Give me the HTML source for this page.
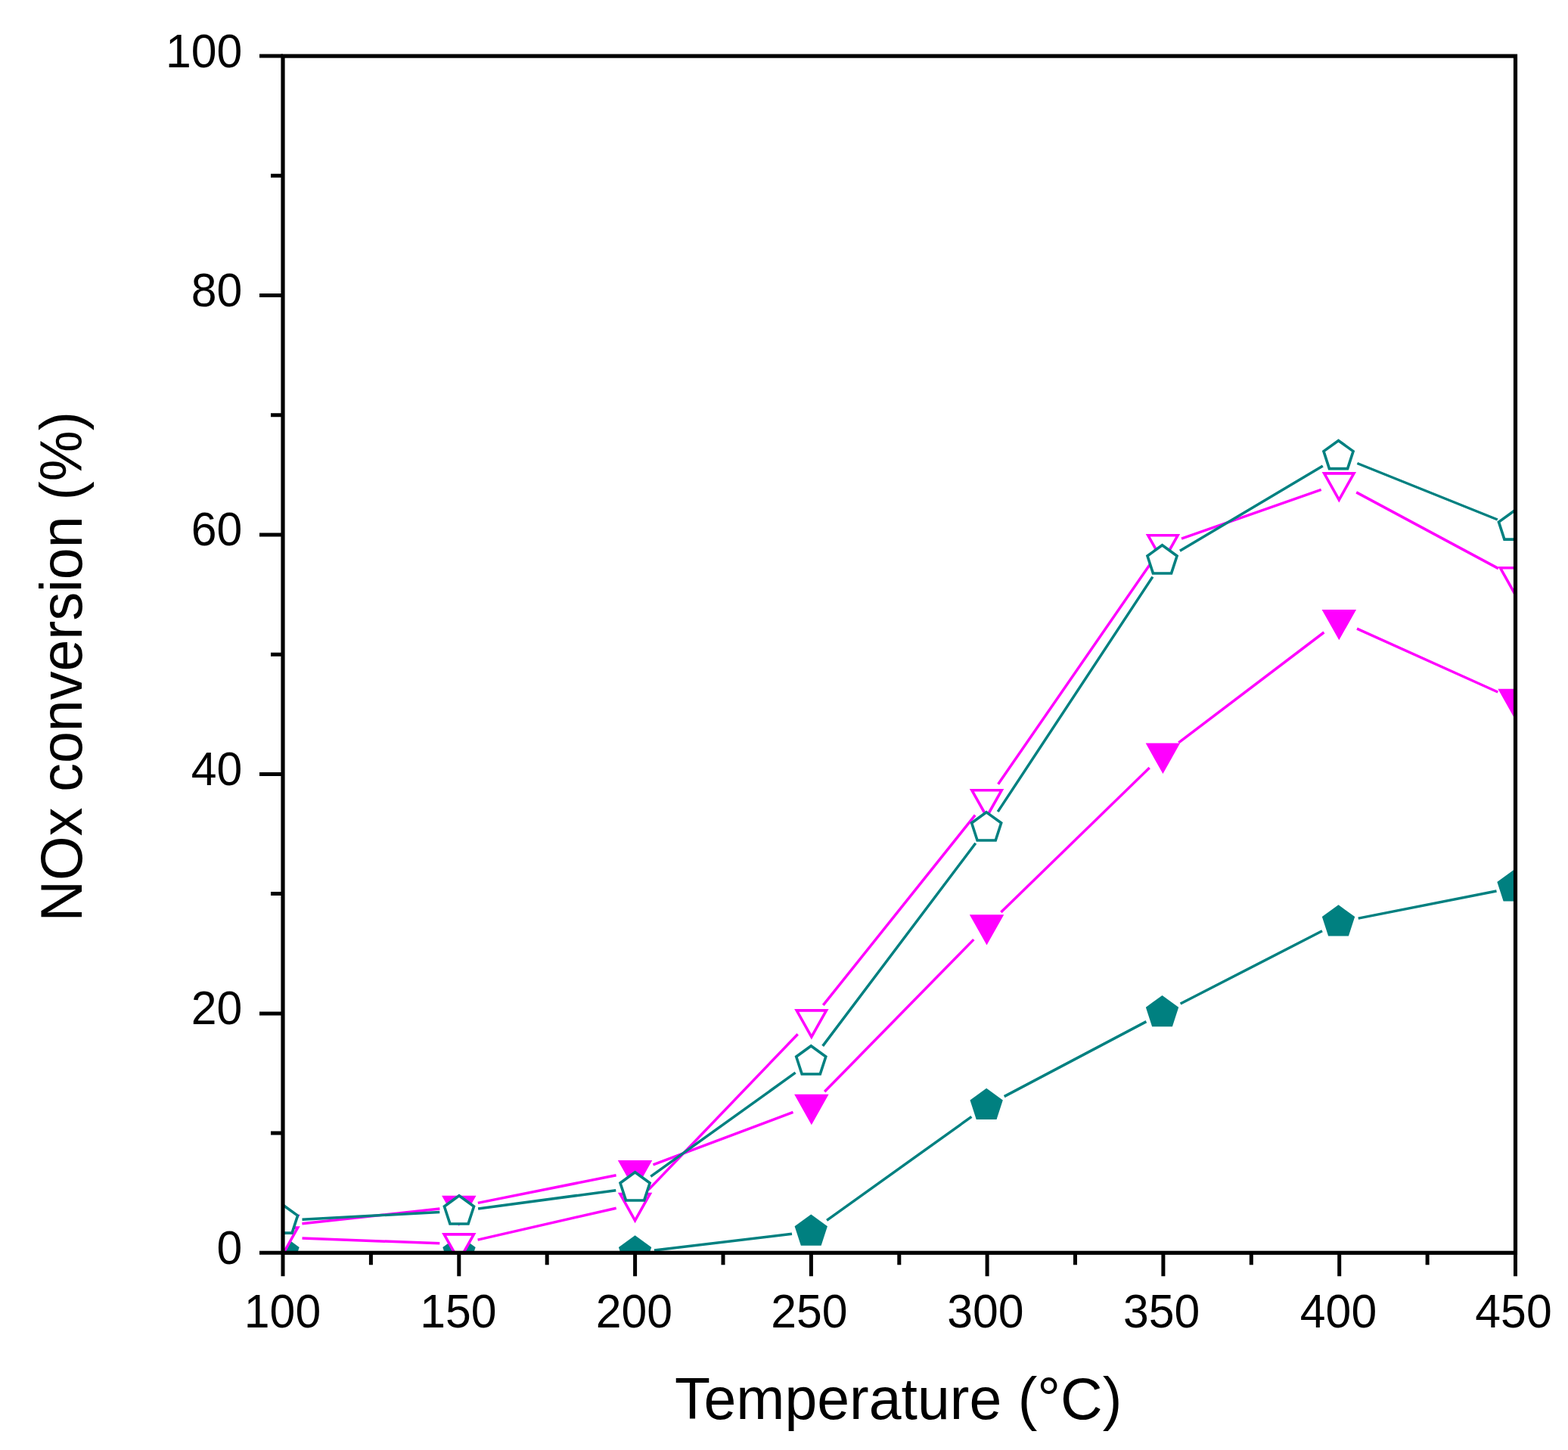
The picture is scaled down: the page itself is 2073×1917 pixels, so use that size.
<!DOCTYPE html>
<html><head><meta charset="utf-8"><title>NOx conversion vs Temperature</title>
<style>
html,body{margin:0;padding:0;background:#fff;width:2073px;height:1917px;overflow:hidden;}
svg{display:block;}
text{font-family:"Liberation Sans",Arial,Helvetica,sans-serif;fill:#000;}
</style></head>
<body>
<svg width="2073" height="1917" viewBox="0 0 2073 1917">
<rect x="0" y="0" width="2073" height="1917" fill="#fff"/>
<defs><clipPath id="pc"><rect x="374.0" y="74.1" width="1629.5" height="1582.2"/></clipPath></defs>
<g clip-path="url(#pc)">
<path d="M399.5 1656.0L581.3 1656.0M632.3 1656.0L814.1 1656.0M864.9 1653.0L1047.0 1631.3M1093.1 1613.4L1284.4 1476.4M1327.7 1449.6L1515.4 1350.6M1560.6 1327.0L1748.0 1230.8M1795.7 1214.1L1978.5 1178.0" fill="none" stroke="#008080" stroke-width="3.5" stroke-linecap="butt"/>
<polygon points="374.00,1635.44 393.55,1649.65 386.08,1672.63 361.92,1672.63 354.45,1649.65" fill="#008080" stroke="#008080" stroke-width="3.6" stroke-linejoin="miter"/>
<polygon points="606.99,1635.44 626.54,1649.65 619.07,1672.63 594.90,1672.63 587.43,1649.65" fill="#008080" stroke="#008080" stroke-width="3.6" stroke-linejoin="miter"/>
<polygon points="839.57,1635.44 859.13,1649.65 851.66,1672.63 827.49,1672.63 820.02,1649.65" fill="#008080" stroke="#008080" stroke-width="3.6" stroke-linejoin="miter"/>
<polygon points="1072.26,1607.74 1091.81,1621.95 1084.34,1644.93 1060.17,1644.93 1052.70,1621.95" fill="#008080" stroke="#008080" stroke-width="3.6" stroke-linejoin="miter"/>
<polygon points="1304.14,1440.94 1323.70,1455.15 1316.23,1478.13 1292.06,1478.13 1284.59,1455.15" fill="#008080" stroke="#008080" stroke-width="3.6" stroke-linejoin="miter"/>
<polygon points="1536.53,1318.14 1556.08,1332.35 1548.61,1355.33 1524.44,1355.33 1516.97,1332.35" fill="#008080" stroke="#008080" stroke-width="3.6" stroke-linejoin="miter"/>
<polygon points="1769.51,1198.54 1789.07,1212.75 1781.60,1235.73 1757.43,1235.73 1749.96,1212.75" fill="#008080" stroke="#008080" stroke-width="3.6" stroke-linejoin="miter"/>
<polygon points="2001.00,1152.44 2020.55,1166.65 2013.08,1189.63 1988.92,1189.63 1981.45,1166.65" fill="#008080" stroke="#008080" stroke-width="3.6" stroke-linejoin="miter"/>
<path d="M399.4 1617.8L581.4 1598.1M631.8 1590.4L814.6 1553.7M863.5 1539.8L1048.5 1470.4M1090.2 1443.3L1287.3 1242.1M1323.4 1206.1L1519.7 1015.1M1558.2 981.9L1750.4 836.0M1794.0 831.1L1980.3 915.0" fill="none" stroke="#FF00FF" stroke-width="3.5" stroke-linecap="butt"/>
<polygon points="354.35,1607.60 393.65,1607.60 374.00,1642.55" fill="#FF00FF" stroke="#FF00FF" stroke-width="3.6" stroke-linejoin="miter"/>
<polygon points="587.14,1582.50 626.44,1582.50 606.79,1617.45" fill="#FF00FF" stroke="#FF00FF" stroke-width="3.6" stroke-linejoin="miter"/>
<polygon points="819.92,1535.80 859.22,1535.80 839.57,1570.75" fill="#FF00FF" stroke="#FF00FF" stroke-width="3.6" stroke-linejoin="miter"/>
<polygon points="1053.21,1448.60 1092.51,1448.60 1072.86,1483.55" fill="#FF00FF" stroke="#FF00FF" stroke-width="3.6" stroke-linejoin="miter"/>
<polygon points="1284.89,1211.00 1324.19,1211.00 1304.54,1245.95" fill="#FF00FF" stroke="#FF00FF" stroke-width="3.6" stroke-linejoin="miter"/>
<polygon points="1517.78,984.40 1557.08,984.40 1537.43,1019.35" fill="#FF00FF" stroke="#FF00FF" stroke-width="3.6" stroke-linejoin="miter"/>
<polygon points="1750.66,807.70 1789.96,807.70 1770.31,842.65" fill="#FF00FF" stroke="#FF00FF" stroke-width="3.6" stroke-linejoin="miter"/>
<polygon points="1983.45,912.60 2022.75,912.60 2003.10,947.55" fill="#FF00FF" stroke="#FF00FF" stroke-width="3.6" stroke-linejoin="miter"/>
<path d="M399.5 1637.0L581.3 1643.8M631.6 1639.1L814.7 1597.2M857.2 1573.1L1054.7 1367.2M1088.3 1328.9L1289.2 1077.6M1319.6 1036.7L1523.4 741.7M1562.0 712.2L1746.7 647.3M1793.2 650.9L1981.0 751.6" fill="none" stroke="#FF00FF" stroke-width="3.5" stroke-linecap="butt"/>
<polygon points="354.35,1623.10 393.65,1623.10 374.00,1658.05" fill="#FFFFFF" stroke="#FF00FF" stroke-width="3.6" stroke-linejoin="miter"/>
<polygon points="587.14,1631.90 626.44,1631.90 606.79,1666.85" fill="#FFFFFF" stroke="#FF00FF" stroke-width="3.6" stroke-linejoin="miter"/>
<polygon points="819.92,1578.60 859.22,1578.60 839.57,1613.55" fill="#FFFFFF" stroke="#FF00FF" stroke-width="3.6" stroke-linejoin="miter"/>
<polygon points="1053.21,1335.90 1092.51,1335.90 1072.86,1370.85" fill="#FFFFFF" stroke="#FF00FF" stroke-width="3.6" stroke-linejoin="miter"/>
<polygon points="1284.89,1044.80 1324.19,1044.80 1304.54,1079.75" fill="#FFFFFF" stroke="#FF00FF" stroke-width="3.6" stroke-linejoin="miter"/>
<polygon points="1517.78,707.80 1557.08,707.80 1537.43,742.75" fill="#FFFFFF" stroke="#FF00FF" stroke-width="3.6" stroke-linejoin="miter"/>
<polygon points="1750.66,625.90 1789.96,625.90 1770.31,660.85" fill="#FFFFFF" stroke="#FF00FF" stroke-width="3.6" stroke-linejoin="miter"/>
<polygon points="1983.45,750.80 2022.75,750.80 2003.10,785.75" fill="#FFFFFF" stroke="#FF00FF" stroke-width="3.6" stroke-linejoin="miter"/>
<path d="M399.5 1612.2L581.3 1602.6M632.1 1597.9L814.3 1573.7M860.3 1555.4L1051.6 1418.2M1087.7 1382.9L1289.8 1114.8M1319.2 1073.1L1523.9 762.6M1559.9 728.3L1748.8 616.0M1794.4 612.5L1979.8 687.0" fill="none" stroke="#008080" stroke-width="3.5" stroke-linecap="butt"/>
<polygon points="374.00,1592.94 393.55,1607.15 386.08,1630.13 361.92,1630.13 354.45,1607.15" fill="#FFFFFF" stroke="#008080" stroke-width="3.6" stroke-linejoin="miter"/>
<polygon points="606.99,1580.74 626.54,1594.95 619.07,1617.93 594.90,1617.93 587.43,1594.95" fill="#FFFFFF" stroke="#008080" stroke-width="3.6" stroke-linejoin="miter"/>
<polygon points="839.57,1549.74 859.13,1563.95 851.66,1586.93 827.49,1586.93 820.02,1563.95" fill="#FFFFFF" stroke="#008080" stroke-width="3.6" stroke-linejoin="miter"/>
<polygon points="1072.26,1382.74 1091.81,1396.95 1084.34,1419.93 1060.17,1419.93 1052.70,1396.95" fill="#FFFFFF" stroke="#008080" stroke-width="3.6" stroke-linejoin="miter"/>
<polygon points="1304.14,1073.84 1323.70,1088.05 1316.23,1111.03 1292.06,1111.03 1284.59,1088.05" fill="#FFFFFF" stroke="#008080" stroke-width="3.6" stroke-linejoin="miter"/>
<polygon points="1536.53,720.74 1556.08,734.95 1548.61,757.93 1524.44,757.93 1516.97,734.95" fill="#FFFFFF" stroke="#008080" stroke-width="3.6" stroke-linejoin="miter"/>
<polygon points="1769.51,582.44 1789.07,596.65 1781.60,619.63 1757.43,619.63 1749.96,596.65" fill="#FFFFFF" stroke="#008080" stroke-width="3.6" stroke-linejoin="miter"/>
<polygon points="2001.00,675.94 2020.55,690.15 2013.08,713.13 1988.92,713.13 1981.45,690.15" fill="#FFFFFF" stroke="#008080" stroke-width="3.6" stroke-linejoin="miter"/>
</g>
<rect x="374.0" y="74.1" width="1629.5" height="1582.2" fill="none" stroke="#000" stroke-width="5.2"/>
<path d="M343.0 1656.3H374.0M358.0 1498.1H374.0M343.0 1339.9H374.0M358.0 1181.6H374.0M343.0 1023.4H374.0M358.0 865.2H374.0M343.0 707.0H374.0M358.0 548.8H374.0M343.0 390.5H374.0M358.0 232.3H374.0M343.0 74.1H374.0M374.0 1656.3V1687.3M490.4 1656.3V1672.3M606.8 1656.3V1687.3M723.2 1656.3V1672.3M839.6 1656.3V1687.3M956.0 1656.3V1672.3M1072.4 1656.3V1687.3M1188.8 1656.3V1672.3M1305.1 1656.3V1687.3M1421.5 1656.3V1672.3M1537.9 1656.3V1687.3M1654.3 1656.3V1672.3M1770.7 1656.3V1687.3M1887.1 1656.3V1672.3M2003.5 1656.3V1687.3" stroke="#000" stroke-width="5" fill="none"/>
<text transform="translate(373.5 1755.0) scale(1.012 1.038)" font-size="60" text-anchor="middle">100</text>
<text transform="translate(605.8 1755.0) scale(1.012 1.038)" font-size="60" text-anchor="middle">150</text>
<text transform="translate(838.4 1755.0) scale(1.012 1.038)" font-size="60" text-anchor="middle">200</text>
<text transform="translate(1069.9 1755.0) scale(1.012 1.038)" font-size="60" text-anchor="middle">250</text>
<text transform="translate(1302.9 1755.0) scale(1.012 1.038)" font-size="60" text-anchor="middle">300</text>
<text transform="translate(1535.7 1755.0) scale(1.012 1.038)" font-size="60" text-anchor="middle">350</text>
<text transform="translate(1769.5 1755.0) scale(1.012 1.038)" font-size="60" text-anchor="middle">400</text>
<text transform="translate(2001.0 1755.0) scale(1.012 1.038)" font-size="60" text-anchor="middle">450</text>
<text transform="translate(320.4 1670.7) scale(1.012 1.038)" font-size="60" text-anchor="end">0</text>
<text transform="translate(320.4 1354.3) scale(1.012 1.038)" font-size="60" text-anchor="end">20</text>
<text transform="translate(320.4 1037.8) scale(1.012 1.038)" font-size="60" text-anchor="end">40</text>
<text transform="translate(320.4 721.4) scale(1.012 1.038)" font-size="60" text-anchor="end">60</text>
<text transform="translate(320.4 404.9) scale(1.012 1.038)" font-size="60" text-anchor="end">80</text>
<text transform="translate(320.4 88.5) scale(1.012 1.038)" font-size="60" text-anchor="end">100</text>
<text x="892" y="1876.3" font-size="77">Temperature (°C)</text>
<text transform="translate(107.8 1218.4) rotate(-90)" x="0" y="0" font-size="77" textLength="674.2" lengthAdjust="spacingAndGlyphs">NOx conversion (%)</text>
</svg>
</body></html>
